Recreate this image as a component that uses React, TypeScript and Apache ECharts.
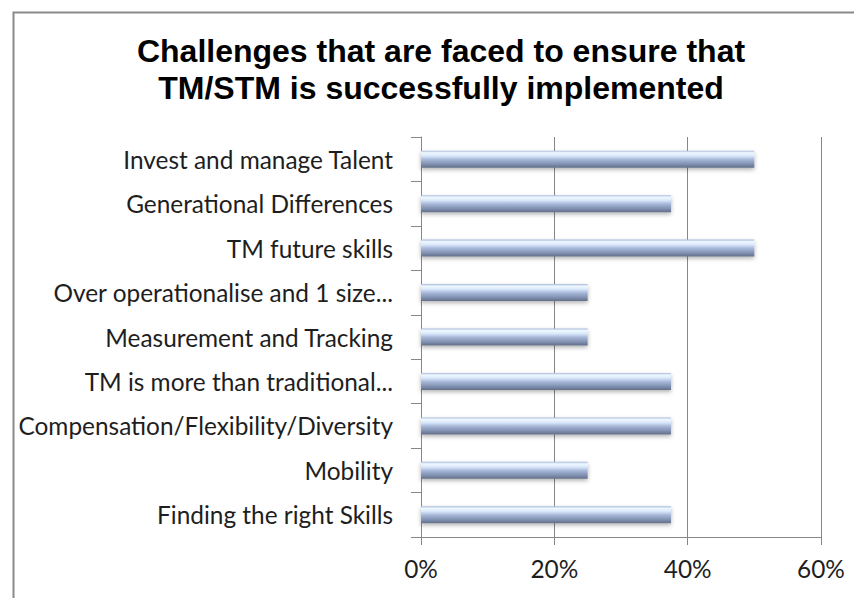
import React, { useEffect, useRef } from "react";
import * as echarts from "echarts";

const titleLines = [
  "Challenges that are faced to ensure that",
  "TM/STM is successfully implemented",
];

const categories = [
  "Invest and manage Talent",
  "Generational Differences",
  "TM future skills",
  "Over operationalise and 1 size...",
  "Measurement and Tracking",
  "TM is more than traditional...",
  "Compensation/Flexibility/Diversity",
  "Mobility",
  "Finding the right Skills",
];

const values = [0.5, 0.375, 0.5, 0.25, 0.25, 0.375, 0.375, 0.25, 0.375];

const xTicks = { min: 0, max: 0.6, interval: 0.2 };

export default function App() {
  const ref = useRef<HTMLDivElement>(null);

  useEffect(() => {
    if (!ref.current) return;
    const chart = echarts.init(ref.current, undefined, { renderer: "svg" });
    const labelFont = "Lato";
    const gray = "#878787";
    chart.setOption({
      animation: false,
      backgroundColor: "#ffffff",
      graphic: [
        {
          type: "rect",
          shape: { x: 13.5, y: 12.5, width: 900, height: 700 },
          style: { fill: "none", stroke: "#8a8a8a", lineWidth: 2 },
          silent: true,
        },
        {
          type: "text",
          x: 441,
          y: 33,
          style: {
            text: titleLines.join("\n"),
            font: "bold 32px 'Liberation Sans', Arial, sans-serif",
            fill: "#000000",
            textAlign: "center",
            textVerticalAlign: "top",
            lineHeight: 36.7,
          },
        },
      ],
      grid: { left: 421, right: 33, top: 137, bottom: 61, containLabel: false },
      xAxis: {
        type: "value",
        min: xTicks.min,
        max: xTicks.max,
        interval: xTicks.interval,
        axisLine: { show: true, lineStyle: { color: gray, width: 1 } },
        axisTick: { show: true, length: 8, lineStyle: { color: gray } },
        splitLine: { show: true, lineStyle: { color: gray, width: 1 } },
        axisLabel: {
          formatter: (v: number) => Math.round(v * 100) + "%",
          fontFamily: labelFont,
          fontSize: 24.4,
          color: "#1e1e1e",
          margin: 19,
        },
      },
      yAxis: {
        type: "category",
        inverse: true,
        data: categories,
        axisLine: { show: true, lineStyle: { color: gray, width: 1 } },
        axisTick: { show: true, length: 10, lineStyle: { color: gray } },
        axisLabel: {
          fontFamily: labelFont,
          fontSize: 24.4,
          color: "#1e1e1e",
          margin: 28,
        },
      },
      series: [
        {
          type: "bar",
          data: values,
          barWidth: 17,
          itemStyle: {
            color: new echarts.graphic.LinearGradient(0, 0, 0, 1, [
              { offset: 0, color: "#a8badc" },
              { offset: 0.12, color: "#eef8ff" },
              { offset: 0.3, color: "#dae8fb" },
              { offset: 0.52, color: "#a6b7d8" },
              { offset: 0.8, color: "#7f8faf" },
              { offset: 1, color: "#636f88" },
            ]),
            shadowColor: "rgba(0,0,0,0.3)",
            shadowBlur: 4,
            shadowOffsetY: 2,
          },
        },
      ],
    });
    return () => chart.dispose();
  }, []);

  return (
    <div
      ref={ref}
      style={{ position: "fixed", left: 0, top: 0, width: 854, height: 598 }}
    />
  );
}
